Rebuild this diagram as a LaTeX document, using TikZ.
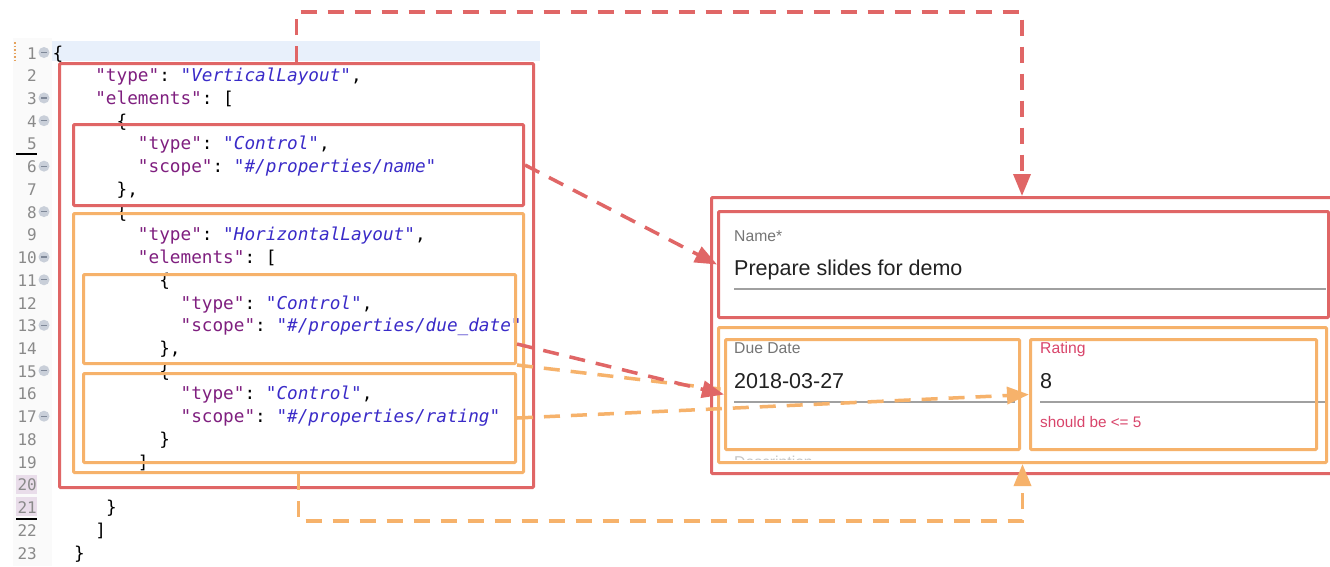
\documentclass[tikz,border=0pt]{standalone}
\usepackage{fontspec}
\setmonofont{DejaVu Sans Mono}
\newfontfamily\uifont{Liberation Sans}
\usetikzlibrary{arrows.meta,calc}
\definecolor{redc}{HTML}{E06666}
\definecolor{orc}{HTML}{F6B26B}
\definecolor{keyc}{HTML}{7F1F7F}
\definecolor{valc}{HTML}{3A2BC8}
\definecolor{numc}{HTML}{8A8A8A}
\definecolor{foldc}{HTML}{C9CFD9}
\definecolor{foldm}{HTML}{7F8898}
\definecolor{hlblue}{HTML}{E8F0FB}
\definecolor{hlpurp}{HTML}{E9DDEA}
\definecolor{lblc}{HTML}{757575}
\definecolor{valtxt}{HTML}{212121}
\definecolor{errc}{HTML}{D9456B}
\definecolor{ulc}{HTML}{A0A0A0}
\newcommand\K[1]{\textcolor{keyc}{"#1"}}
\newcommand\V[1]{\textcolor{valc}{\itshape "#1"}}
\tikzset{
  codeline/.style={anchor=base west, inner sep=0pt, font=\ttfamily\fontsize{17.7pt}{20pt}\selectfont},
  lnum/.style={anchor=base east, inner sep=0pt, text=numc, font=\ttfamily\fontsize{16pt}{18pt}\selectfont},
  boxbase/.style={draw, line width=3pt, rounded corners=1pt, inner sep=0pt, anchor=north west},
  redbox/.style={boxbase, draw=redc},
  orbox/.style={boxbase, draw=orc},
  reddash/.style={draw=redc, line width=3.5pt, dash pattern=on 16pt off 11pt},
  ordash/.style={draw=orc, line width=3.5pt, dash pattern=on 16pt off 11pt},
  tip/.style={-{Triangle[length=22pt,width=17pt]}},
  uilabel/.style={anchor=base west, inner sep=0pt, text=lblc, font=\uifont\fontsize{15.7pt}{18pt}\selectfont},
  uival/.style={anchor=base west, inner sep=0pt, text=valtxt, font=\uifont\fontsize{21.5pt}{24pt}\selectfont},
  uline/.style={draw=ulc, line width=1.5pt}
}
\newcommand\cl[3]{\node[codeline] (c#1) at ({52.5+#2*10.66},{59+(#1-1)*22.73}) {#3};}
\begin{document}
\begin{tikzpicture}[x=1pt,y=-1pt]
\useasboundingbox (0,0) rectangle (1330,566);
\fill[white] (0,0) rectangle (1330,566);
% editor gutter and highlights
\fill[gray!4] (13,38) rectangle (52,566);
\draw[orc!70!brown, line width=1.5pt, dotted] (15,42) -- (15,63);
\fill[hlblue] (52,41) rectangle (540,61);
\fill[hlpurp] (16,475) rectangle (37,494);
\fill[hlpurp] (16,497) rectangle (37,516);
\draw[black, line width=1.6pt] (16,154) -- (37,154);
\draw[black, line width=1.6pt] (16,519) -- (37,519);
\foreach \n in {1,...,23} \node[lnum] (n\n) at (37,{59+(\n-1)*22.73}) {\n};
\foreach \n in {1,3,4,6,8,10,11,13,15,17} {
  \fill[foldc] (44,{52.5+(\n-1)*22.73}) circle (5.5);
  \draw[foldm, line width=1.2pt] (41,{52.5+(\n-1)*22.73}) -- (47,{52.5+(\n-1)*22.73});
}
% code
\cl{1}{0}{\{}
\cl{2}{4}{\K{type}: \V{VerticalLayout},}
\cl{3}{4}{\K{elements}: [}
\cl{4}{6}{\{}
\cl{5}{8}{\K{type}: \V{Control},}
\cl{6}{8}{\K{scope}: \V{\#/properties/name}}
\cl{7}{6}{\},}
\cl{8}{6}{\{}
\cl{9}{8}{\K{type}: \V{HorizontalLayout},}
\cl{10}{8}{\K{elements}: [}
\cl{11}{10}{\{}
\cl{12}{12}{\K{type}: \V{Control},}
\cl{13}{12}{\K{scope}: \V{\#/properties/due\_date}}
\cl{14}{10}{\},}
\cl{15}{10}{\{}
\cl{16}{12}{\K{type}: \V{Control},}
\cl{17}{12}{\K{scope}: \V{\#/properties/rating}}
\cl{18}{10}{\}}
\cl{19}{8}{]}
\cl{21}{5}{\}}
\cl{22}{4}{]}
\cl{23}{2}{\}}
% form contents
\node[uilabel] (lname) at (734,241) {Name*};
\node[uival] (vname) at (734,275) {Prepare slides for demo};
\draw[uline] (734,289) -- (1326,289);
\node[uilabel] (ldue) at (734,353) {Due Date};
\node[uival] (vdue) at (734,388) {2018-03-27};
\draw[uline] (734,402) -- (1015,402);
\node[uilabel, text=errc] (lrat) at (1040,353) {Rating};
\node[uival] (vrat) at (1040,388) {8};
\draw[uline] (1040,402) -- (1326,402);
\node[uilabel, text=errc, font=\uifont\fontsize{15.3pt}{17pt}\selectfont] (erat) at (1040,427) {should be <= 5};
\begin{scope}
  \clip (728,451) rectangle (830,459);
  \node[uilabel, text=gray!45] (ldesc) at (734,467) {Description};
\end{scope}
% boxes (code side)
\node[redbox, minimum width=474pt, minimum height=424pt] (R1) at (58,62) {};
\node[redbox, minimum width=450pt, minimum height=81pt] (R2) at (72,123) {};
\node[orbox, minimum width=450pt, minimum height=259pt] (O1) at (72,212) {};
\node[orbox, minimum width=432pt, minimum height=89pt] (O2) at (82,273) {};
\node[orbox, minimum width=432pt, minimum height=89pt] (O3) at (82,372) {};
% boxes (form side)
\node[redbox, minimum width=621pt, minimum height=276pt] (R3) at (710,196) {};
\node[redbox, minimum width=610pt, minimum height=106pt] (R4) at (717,210) {};
\node[orbox, minimum width=608pt, minimum height=135pt] (O4) at (717,326) {};
\node[orbox, minimum width=294pt, minimum height=110pt] (O5) at (724,338) {};
\node[orbox, minimum width=286pt, minimum height=110pt] (O6) at (1029,338) {};
% connectors
\coordinate (topc) at (660,12);
\coordinate (botc) at (660,521);
\draw[reddash, tip] (R1.north) |- (topc) -| (R3.north);
\draw[ordash, tip] (O1.south) |- (botc) -| (O4.south);
\draw[reddash, tip] (R2.east) -- (R4.west);
\draw[ordash] (O2.south east) -- ([yshift=5pt]O5.west);
\draw[reddash, tip] ([yshift=-25pt]O2.east) -- (O5.west);
\draw[ordash, tip] (O3.east) -- (O6.west);
\end{tikzpicture}
\end{document}
